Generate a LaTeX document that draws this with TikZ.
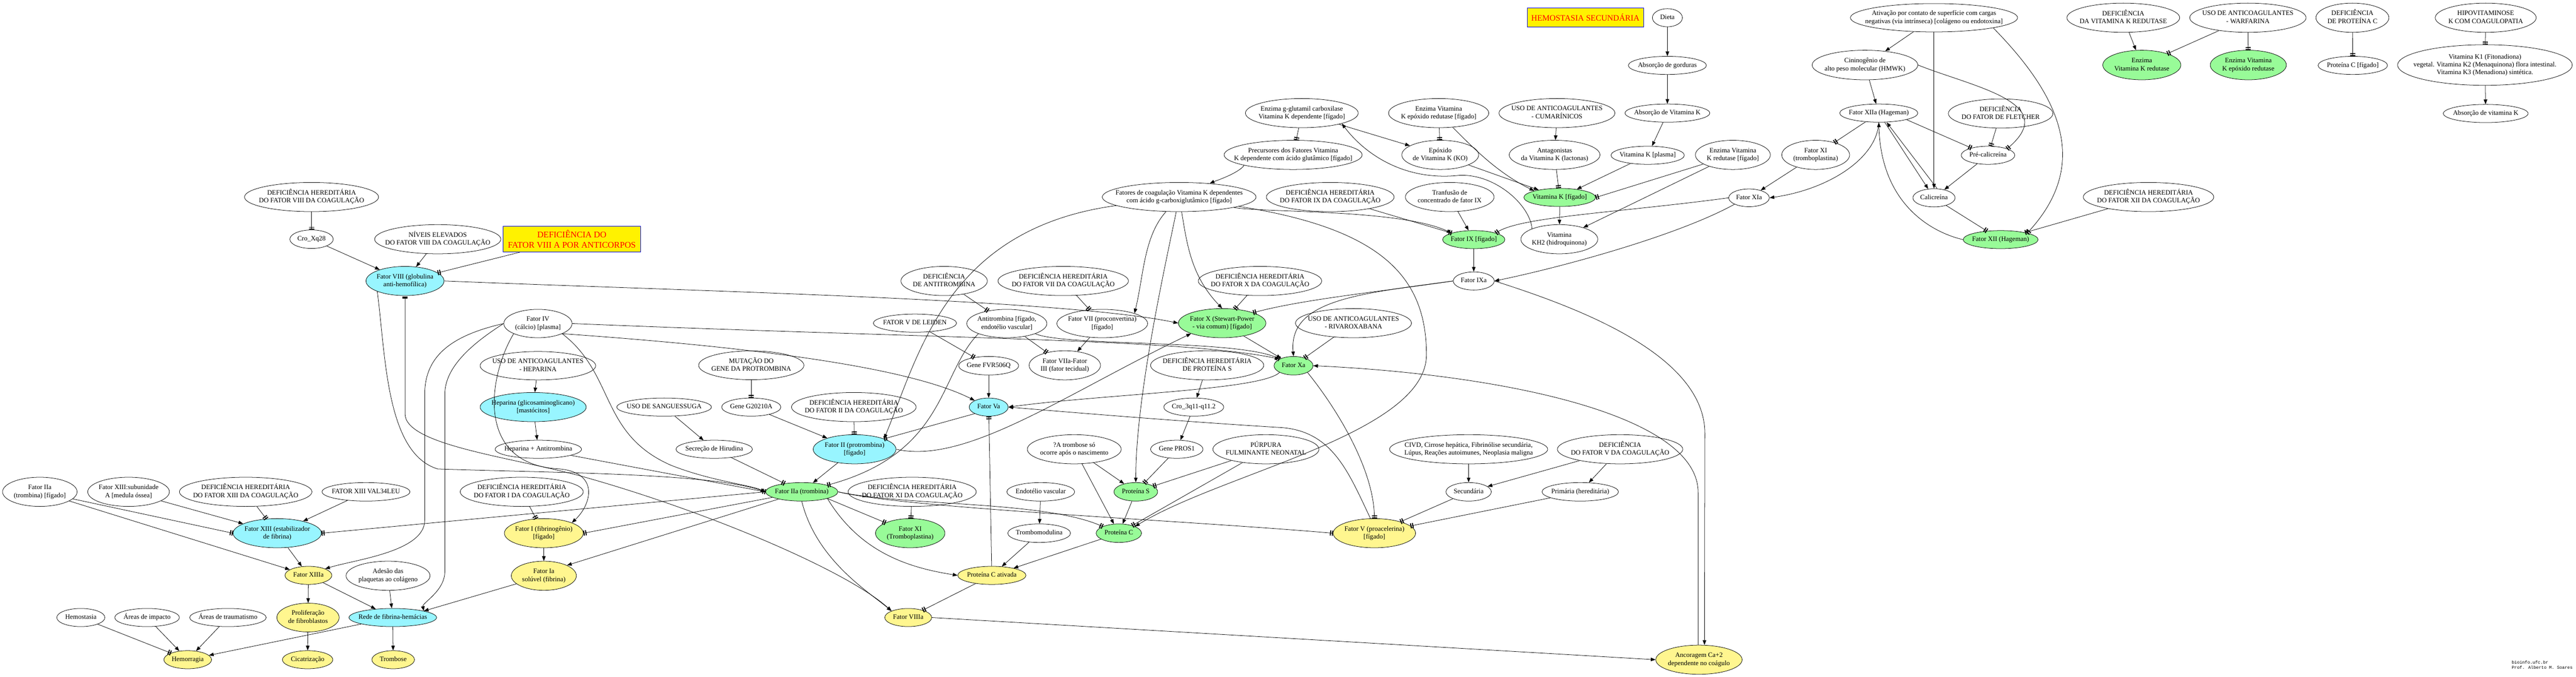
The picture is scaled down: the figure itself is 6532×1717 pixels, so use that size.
\documentclass[tikz,border=0pt]{standalone}
\usepackage{fontspec}
\setmainfont{Liberation Serif}
\newfontfamily\marcafont{Liberation Mono}
\usetikzlibrary{shapes.geometric,arrows.meta}
\definecolor{azul}{HTML}{98F5FF}
\definecolor{verde}{HTML}{98FB98}
\definecolor{amarelo}{HTML}{FFF68F}
\def\lb#1{\makebox[0pt]{\begin{tabular}{@{}c@{}}#1\end{tabular}}}
\tikzset{
	elip/.style 2 args={ellipse, draw, line width=1pt, minimum width=#1, minimum height=#2, inner sep=0pt, font=\fontsize{17}{20}\selectfont},
	caixa/.style={rectangle, draw=blue, fill=yellow, text=red, line width=1pt, inner xsep=9pt, inner ysep=7pt, font=\fontsize{21}{25}\selectfont, align=center},
	seta/.style={line width=1pt, -{Triangle[length=12pt,width=9pt]}},
	inib/.style={line width=1pt, -{Bar[width=13pt,line width=2.5pt,sep=2.5pt]Bar[width=13pt,line width=2.5pt]}},
}
\begin{document}
\begin{tikzpicture}[x=1pt,y=-1pt]
		%%%%% START %%%%%
		\useasboundingbox (0,0) rectangle (6532,1717);
		
		% parte de cima
		\node[caixa, minimum width=295, minimum height=48] (hemsec) at (4020,44) {HEMOSTASIA SECUNDÁRIA};
		\node[elip={76}{46}] (dieta) at (4228,45) {\lb{Dieta}};
		\node[elip={424}{72}] (ativ) at (4904,45) {\lb{Ativação por contato de superfície com cargas\\negativas (via intrínseca) [colágeno ou endotoxina]}};
		\node[elip={286}{74}] (defvkred) at (5384,45) {\lb{DEFICIÊNCIA\\DA VITAMINA K REDUTASE}};
		\node[elip={295}{74}] (warf) at (5700,45) {\lb{USO DE ANTICOAGULANTES\\- WARFARINA}};
		\node[elip={185}{74}] (defpc) at (5965,45) {\lb{DEFICIÊNCIA\\DE PROTEÍNA C}};
		\node[elip={256}{74}] (hipovit) at (6303,45) {\lb{HIPOVITAMINOSE\\K COM COAGULOPATIA}};
		
		\node[elip={198}{46}] (absgord) at (4228,166) {\lb{Absorção de gorduras}};
		\node[elip={268}{75}] (cinino) at (4729,165) {\lb{Cininogênio de\\alto peso molecular (HMWK)}};
		\node[elip={198}{75}, fill=verde] (enzvkred) at (5431,165) {\lb{Enzima\\Vitamina K redutase}};
		\node[elip={193}{75}, fill=verde] (enzvkepox) at (5701,165) {\lb{Enzima Vitamina\\K epóxido redutase}};
		\node[elip={176}{46}] (pcfig) at (5966,166) {\lb{Proteína C [fígado]}};
		\node[elip={443}{103}] (vitk) at (6301,165) {\lb{Vitamina K1 (Fitonadiona)\\vegetal. Vitamina K2 (Menaquinona) flora intestinal.\\Vitamina K3 (Menadiona) sintética.}};
		
		\node[elip={286}{74}] (enzgama) at (3301,287) {\lb{Enzima g-glutamil carboxilase\\Vitamina K dependente [fígado]}};
		\node[elip={254}{74}] (enzepf) at (3648,287) {\lb{Enzima Vitamina\\K epóxido redutase [fígado]}};
		\node[elip={294}{74}] (cumar) at (3948,287) {\lb{USO DE ANTICOAGULANTES\\- CUMARÍNICOS}};
		\node[elip={215}{46}] (absvk) at (4228,287) {\lb{Absorção de Vitamina K}};
		\node[elip={198}{46}] (f12a) at (4764,287) {\lb{Fator XIIa (Hageman)}};
		\node[elip={265}{74}] (fletcher) at (5073,288) {\lb{DEFICIÊNCIA\\DO FATOR DE FLETCHER}};
		\node[elip={215}{46}] (absvk2) at (6303,288) {\lb{Absorção de vitamina K}};
		
		\node[elip={350}{74}] (precur) at (3279,393) {\lb{Precursores dos Fatores Vitamina\\K dependente com ácido glutâmico [fígado]}};
		\node[elip={195}{74}] (epox) at (3652,393) {\lb{Epóxido\\de Vitamina K (KO)}};
		\node[elip={230}{74}] (antag) at (3942,393) {\lb{Antagonistas\\da Vitamina K (lactonas)}};
		\node[elip={186}{46}] (vkplasma) at (4178,394) {\lb{Vitamina K [plasma]}};
		\node[elip={190}{74}] (enzredf) at (4394,393) {\lb{Enzima Vitamina\\K redutase [fígado]}};
		\node[elip={172}{74}] (f11trom) at (4604,393) {\lb{Fator XI\\(tromboplastina)}};
		\node[elip={136}{46}] (precal) at (5041,394) {\lb{Pré-calicreína}};
		
		\node[elip={340}{74}] (defh8) at (790,500) {\lb{DEFICIÊNCIA HEREDITÁRIA\\DO FATOR VIII DA COAGULAÇÃO}};
		\node[elip={390}{74}] (fatvk) at (2990,500) {\lb{Fatores de coagulação Vitamina K dependentes\\com ácido g-carboxiglutâmico [fígado]}};
		\node[elip={324}{74}] (def9) at (3373,500) {\lb{DEFICIÊNCIA HEREDITÁRIA\\DO FATOR IX DA COAGULAÇÃO}};
		\node[elip={225}{74}] (transf) at (3676,500) {\lb{Tranfusão de\\concentrado de fator IX}};
		\node[elip={182}{46}, fill=verde] (vkfig) at (3955,501) {\lb{Vitamina K [fígado]}};
		\node[elip={103}{45}] (f11a) at (4435,502) {\lb{Fator XIa}};
		\node[elip={107}{46}] (calic) at (4904,502) {\lb{Calicreína}};
		\node[elip={331}{74}] (def12) at (5448,500) {\lb{DEFICIÊNCIA HEREDITÁRIA\\DO FATOR XII DA COAGULAÇÃO}};
		
		\node[elip={110}{47}] (cro8) at (790,607) {\lb{Cro\_Xq28}};
		\node[elip={320}{74}] (niveis) at (1110,607) {\lb{NÍVEIS ELEVADOS\\DO FATOR VIII DA COAGULAÇÃO}};
		\node[caixa, font=\fontsize{22}{26}\selectfont, inner xsep=12pt, inner ysep=10pt] (anticorp) at (1450,607) {DEFICIÊNCIA DO\\FATOR VIII A POR ANTICORPOS};
		\node[elip={158}{46}, fill=verde] (f9) at (3737,608) {\lb{Fator IX [fígado]}};
		\node[elip={195}{74}] (vkh2) at (3954,607) {\lb{Vitamina\\KH2 (hidroquinona)}};
		\node[elip={190}{46}, fill=verde] (f12) at (5073,608) {\lb{Fator XII (Hageman)}};
		
		% meio
		\node[elip={198}{74}, fill=azul] (f8) at (1027,713) {\lb{Fator VIII (globulina\\anti-hemofílica)}};
		\node[elip={219}{74}] (defat) at (2394,713) {\lb{DEFICIÊNCIA\\DE ANTITROMBINA}};
		\node[elip={331}{74}] (def7) at (2696,713) {\lb{DEFICIÊNCIA HEREDITÁRIA\\DO FATOR VII DA COAGULAÇÃO}};
		\node[elip={313}{74}] (def10) at (3195,713) {\lb{DEFICIÊNCIA HEREDITÁRIA\\DO FATOR X DA COAGULAÇÃO}};
		\node[elip={104}{46}] (f9a) at (3737,713) {\lb{Fator IXa}};
		
		\node[elip={173}{72}] (f4) at (1364,821) {\lb{Fator IV\\(cálcio) [plasma]}};
		\node[elip={211}{46}] (leiden) at (2320,820) {\lb{FATOR V DE LEIDEN}};
		\node[elip={203}{72}] (antitr) at (2553,821) {\lb{Antitrombina [fígado,\\endotélio vascular]}};
		\node[elip={230}{72}] (f7) at (2795,821) {\lb{Fator VII (proconvertina)\\{}[fígado]}};
		\node[elip={222}{74}, fill=verde] (f10) at (3099,820) {\lb{Fator X (Stewart-Power\\- via comum) [fígado]}};
		\node[elip={294}{74}] (rivar) at (3432,820) {\lb{USO DE ANTICOAGULANTES\\- RIVAROXABANA}};
		
		\node[elip={293}{72}] (hepuso) at (1364,928) {\lb{USO DE ANTICOAGULANTES\\- HEPARINA}};
		\node[elip={267}{73}] (mutpro) at (1905,927) {\lb{MUTAÇÃO DO\\GENE DA PROTROMBINA}};
		\node[elip={152}{47}] (fvr) at (2507,928) {\lb{Gene FVR506Q}};
		\node[elip={181}{74}] (f7a) at (2700,927) {\lb{Fator VIIa-Fator\\III (fator tecidual)}};
		\node[elip={287}{74}] (defps) at (3061,927) {\lb{DEFICIÊNCIA HEREDITÁRIA\\DE PROTEÍNA S}};
		\node[elip={99}{47}, fill=verde] (f10a) at (3280,928) {\lb{Fator Xa}};
		
		\node[elip={269}{74}, fill=azul] (hepar) at (1352,1033) {\lb{Heparina (glicosaminoglicano)\\{}[mastócitos]}};
		\node[elip={240}{46}] (sangue) at (1684,1033) {\lb{USO DE SANGUESSUGA}};
		\node[elip={150}{46}] (g20210) at (1905,1033) {\lb{Gene G20210A}};
		\node[elip={316}{74}] (def2) at (2165,1033) {\lb{DEFICIÊNCIA HEREDITÁRIA\\DO FATOR II DA COAGULAÇÃO}};
		\node[elip={99}{46}, fill=azul] (f5a) at (2507,1033) {\lb{Fator Va}};
		\node[elip={152}{46}] (cro3q) at (3027,1033) {\lb{Cro\_3q11-q11.2}};
		
		\node[elip={219}{46}] (hepat) at (1365,1140) {\lb{Heparina + Antitrombina}};
		\node[elip={194}{46}] (hirud) at (1811,1140) {\lb{Secreção de Hirudina}};
		\node[elip={210}{74}, fill=azul] (f2) at (2167,1140) {\lb{Fator II (protrombina)\\{}[fígado]}};
		\node[elip={238}{74}] (nasc) at (2724,1140) {\lb{?A trombose só\\ocorre após o nascimento}};
		\node[elip={133}{46}] (pros1) at (2984,1140) {\lb{Gene PROS1}};
		\node[elip={269}{74}] (purp) at (3210,1140) {\lb{PÚRPURA\\FULMINANTE NEONATAL}};
		\node[elip={401}{74}] (civd) at (3724,1140) {\lb{CIVD, Cirrose hepática, Fibrinólise secundária,\\Lúpus, Reações autoimunes, Neoplasia maligna}};
		\node[elip={318}{74}] (def5) at (4108,1140) {\lb{DEFICIÊNCIA\\DO FATOR V DA COAGULAÇÃO}};
		
		% parte de baixo
		\node[elip={189}{74}] (f2afig) at (101,1248) {\lb{Fator IIa\\(trombina) [fígado]}};
		\node[elip={207}{74}] (f13sub) at (326,1248) {\lb{Fator XIII:subunidade\\A [medula óssea]}};
		\node[elip={336}{74}] (def13) at (623,1248) {\lb{DEFICIÊNCIA HEREDITÁRIA\\DO FATOR XIII DA COAGULAÇÃO}};
		\node[elip={223}{47}] (val34) at (928,1248) {\lb{FATOR XIII VAL34LEU}};
		\node[elip={312}{74}] (def1) at (1323,1248) {\lb{DEFICIÊNCIA HEREDITÁRIA\\DO FATOR I DA COAGULAÇÃO}};
		\node[elip={183}{47}, fill=verde] (f2a) at (2033,1248) {\lb{Fator IIa (trombina)}};
		\node[elip={325}{74}] (def11) at (2313,1248) {\lb{DEFICIÊNCIA HEREDITÁRIA\\DO FATOR XI DA COAGULAÇÃO}};
		\node[elip={172}{47}] (endot) at (2639,1248) {\lb{Endotélio vascular}};
		\node[elip={111}{47}, fill=verde] (ps) at (2880,1248) {\lb{Proteína S}};
		\node[elip={115}{47}] (secund) at (3724,1248) {\lb{Secundária}};
		\node[elip={194}{47}] (prim) at (4007,1248) {\lb{Primária (hereditária)}};
		
		\node[elip={224}{74}, fill=azul] (f13) at (703,1353) {\lb{Fator XIII (estabilizador\\de fibrina)}};
		\node[elip={200}{74}, fill=amarelo] (f1) at (1379,1353) {\lb{Fator I (fibrinogênio)\\{}[fígado]}};
		\node[elip={176}{74}, fill=verde] (f11) at (2308,1353) {\lb{Fator XI\\(Tromboplastina)}};
		\node[elip={159}{47}] (tmod) at (2635,1353) {\lb{Trombomodulina}};
		\node[elip={115}{47}, fill=verde] (pc) at (2837,1353) {\lb{Proteína C}};
		\node[elip={209}{74}, fill=amarelo] (f5) at (3485,1353) {\lb{Fator V (proacelerina)\\{}[fígado]}};
		
		\node[elip={119}{46}, fill=amarelo] (f13a) at (782,1460) {\lb{Fator XIIIa}};
		\node[elip={213}{74}] (ades) at (984,1461) {\lb{Adesão das\\plaquetas ao colágeno}};
		\node[elip={165}{74}, fill=amarelo] (f1a) at (1379,1461) {\lb{Fator Ia\\solúvel (fibrina)}};
		\node[elip={173}{46}, fill=amarelo] (pca) at (2515,1460) {\lb{Proteína C ativada}};
		
		\node[elip={122}{46}] (hemost) at (205,1567) {\lb{Hemostasia}};
		\node[elip={164}{46}] (impac) at (373,1567) {\lb{Áreas de impacto}};
		\node[elip={194}{46}] (traum) at (578,1567) {\lb{Áreas de traumatismo}};
		\node[elip={158}{73}, fill=amarelo] (prolif) at (781,1567) {\lb{Proliferação\\de fibroblastos}};
		\node[elip={222}{46}, fill=azul] (rede) at (996,1567) {\lb{Rede de fibrina-hemácias}};
		\node[elip={119}{46}, fill=amarelo] (f8a) at (2303,1567) {\lb{Fator VIIIa}};
		
		\node[elip={121}{46}, fill=amarelo] (hemor) at (476,1674) {\lb{Hemorragia}};
		\node[elip={128}{46}, fill=amarelo] (cicat) at (780,1674) {\lb{Cicatrização}};
		\node[elip={108}{46}, fill=amarelo] (tromb) at (997,1674) {\lb{Trombose}};
		\node[elip={219}{74}, fill=amarelo] (ancor) at (4308,1674) {\lb{Ancoragem Ca+2\\dependente no coágulo}};
		
		\node[anchor=north west, inner sep=0pt, align=left, font=\marcafont\fontsize{11}{14}\selectfont] (marca) at (6369,1676) {bioinfo.ufc.br\\Prof. Alberto M. Soares};
		
		% ligacoes - vitamina K
		\draw[seta] (dieta) -- (absgord);
		\draw[seta] (absgord) -- (absvk);
		\draw[seta] (absvk) -- (vkplasma);
		\draw[seta] (vkplasma) -- (vkfig);
		\draw[inib] (hipovit) -- (vitk);
		\draw[seta] (vitk) -- (absvk2);
		\draw[seta] (defvkred) -- (enzvkred);
		\draw[inib] (warf) -- (enzvkred);
		\draw[inib] (warf) -- (enzvkepox);
		\draw[inib] (defpc) -- (pcfig);
		\draw[seta] (cumar) -- (antag);
		\draw[inib] (antag) -- (vkfig);
		\draw[seta] (vkfig) -- (vkh2);
		\draw[seta] (enzredf) -- (vkh2);
		\draw[inib] (enzredf) -- (vkfig.east);
		\draw[inib] (enzepf) -- (epox);
		\draw[seta] (enzepf) .. controls (3740,380) and (3800,440) .. (vkfig.north west);
		\draw[seta] (epox) -- (vkfig);
		\draw[seta] (enzgama) -- (epox);
		\draw[inib] (enzgama) -- (precur);
		\draw[seta] (vkh2.north west) .. controls (3880,520) and (3790,440) .. (3700,445) .. controls (3560,460) and (3460,390) .. (enzgama.south east);
		\draw[seta] (precur.south west) .. controls (3140,440) and (3080,460) .. (fatvk);
		
		% via intrinseca
		\draw[seta] (ativ) -- (cinino);
		\draw[seta] (ativ.south) -- (calic);
		\draw[inib] (ativ.south east) .. controls (5230,250) and (5300,420) .. (f12.north east);
		\draw[seta] (cinino) -- (f12a);
		\draw[inib] (cinino.east) .. controls (5000,220) and (5230,260) .. (precal.north east);
		\draw[seta] (f12.west) .. controls (4900,590) and (4770,520) .. (f12a.south);
		\draw[seta] (f12a) -- (calic);
		\draw[seta] ([xshift=8pt]calic.north) -- ([xshift=20pt]f12a.south);
		\draw[inib] (f12a.south east) -- (precal);
		\draw[seta] (precal) -- (calic);
		\draw[inib] (calic) -- (f12);
		\draw[inib] (fletcher) -- (precal);
		\draw[inib] (def12) -- (f12);
		\draw[inib] (f12a) -- (f11trom);
		\draw[seta] (f11trom) -- (f11a);
		\draw[seta] (f12a.south) .. controls (4760,400) and (4640,480) .. (f11a.east);
		\draw[inib] (f11a.west) .. controls (4100,540) and (3850,550) .. (f9.north east);
		\draw[seta] (f11a.south west) .. controls (4250,600) and (3950,680) .. (f9a.east);
		\draw[seta] (f9) -- (f9a);
		\draw[inib] (def9) -- (f9);
		\draw[seta] (transf) -- (f9);
		\draw[seta] (fatvk) .. controls (3200,540) and (3550,530) .. (f9.north west);
		
		% fator VIII
		\draw[inib] (defh8) -- (cro8);
		\draw[seta] (cro8) -- (f8);
		\draw[seta] (niveis) -- (f8);
		\draw[inib] (anticorp) -- (f8);
		\draw[seta] (f8.east) .. controls (1800,740) and (2700,760) .. (f10.west);
		\draw[{Bar[width=13pt,line width=2.5pt,sep=2.5pt]Bar[width=13pt,line width=2.5pt]}-{Triangle[length=12pt,width=9pt]}, line width=1pt] (f8.south) -- (1027,1050) .. controls (1027,1130) and (1300,1160) .. (1480,1210) .. controls (1800,1300) and (2150,1450) .. (f8a.north west);
		\draw[seta] (f8.south west) .. controls (978,900) and (978,1150) .. (1110,1190) .. controls (1400,1200) and (1800,1200) .. (f2a.west);
		
		% fatores vitamina K dependentes
		\draw[seta] (fatvk) .. controls (2900,600) and (2900,700) .. (f7.north east);
		\draw[seta] (fatvk) .. controls (3010,620) and (3020,700) .. (f10.north);
		\draw[seta] (fatvk) .. controls (2960,650) and (2880,1000) .. (ps);
		\draw[seta] (fatvk) .. controls (3500,580) and (3617,700) .. (3617,900) .. controls (3617,1100) and (3100,1200) .. (pc.north east);
		\draw[seta] (fatvk) .. controls (2400,580) and (2330,900) .. (f2.north east);
		
		% fator IV
		\draw[seta] (f4.west) .. controls (1150,850) and (1077,900) .. (1077,1000) -- (1077,1320) .. controls (1077,1400) and (900,1420) .. (f13a.north east);
		\draw[seta] (f4.west) .. controls (1200,870) and (1128,930) .. (1128,1000) -- (1128,1450) .. controls (1128,1500) and (1070,1530) .. (rede.north east);
		\draw[seta] (f4.south west) .. controls (1240,950) and (1200,1180) .. (1420,1190) .. controls (1520,1200) and (1500,1280) .. (f1.north east);
		\draw[seta] (f4.south east) .. controls (1560,950) and (1520,1100) .. (1700,1180) .. controls (1800,1220) and (1900,1230) .. (f2a.west);
		\draw[seta] (f4.east) .. controls (2400,860) and (3000,860) .. (f10a.north west);
		\draw[seta] (f4.south east) .. controls (1900,880) and (2300,930) .. (f5a.north west);
		
		% heparina, hirudina, protrombina
		\draw[seta] (hepuso) -- (hepar);
		\draw[seta] (hepar) -- (hepat);
		\draw[inib] (hepat) -- (f2a.west);
		\draw[seta] (sangue) -- (hirud);
		\draw[inib] (hirud) -- (f2a);
		\draw[inib] (mutpro) -- (g20210);
		\draw[seta] (g20210) -- (f2);
		\draw[inib] (def2) -- (f2);
		\draw[seta] (f2) -- (f2a);
		\draw[inib] (antitr.south west) .. controls (2380,950) and (2400,1150) .. (f2a.north east);
		\draw[seta] (f2.east) .. controls (2450,1180) and (2700,1000) .. (f10.south west);
		
		% fibrinogenio e fator XIII
		\draw[inib] (def1) -- (f1);
		\draw[seta] (f1) -- (f1a);
		\draw[inib] (f2a) -- (f1.east);
		\draw[seta] (f2a) -- (f1a.north east);
		\draw[seta] (f1a) -- (rede.north east);
		\draw[inib] (f2afig) -- (f13.west);
		\draw[seta] (f2afig) -- (f13a);
		\draw[seta] (f13sub) -- (f13);
		\draw[inib] (def13) -- (f13);
		\draw[seta] (val34) -- (f13);
		\draw[inib] (f2a.west) -- (f13.east);
		\draw[seta] (f13) -- (f13a);
		\draw[seta] (f13a) -- (prolif);
		\draw[seta] (f13a) -- (rede);
		\draw[seta] (ades) -- (rede);
		\draw[seta] (rede) -- (hemor);
		\draw[seta] (rede) -- (tromb);
		\draw[inib] (hemost) -- (hemor);
		\draw[seta] (impac) -- (hemor);
		\draw[seta] (traum) -- (hemor);
		\draw[seta] (prolif) -- (cicat);
		
		% trombina e proteina C
		\draw[inib] (def11) -- (f11);
		\draw[inib] (f2a.south east) -- (f11.north west);
		\draw[inib] (f2a.east) .. controls (2300,1290) and (3000,1320) .. (f5.west);
		\draw[inib] (f2a.east) .. controls (2300,1285) and (2650,1270) .. (pc.north west);
		\draw[seta] (f2a.south east) .. controls (2180,1400) and (2300,1440) .. (pca.west);
		\draw[seta] (f2a.south) .. controls (2070,1420) and (2200,1500) .. (f8a.north west);
		\draw[inib] (pca) -- (f8a);
		\draw[inib] (pca) -- (f5a);
		\draw[inib] (f5a.south west) -- (f2.north east);
		\draw[seta] (defps) -- (cro3q);
		\draw[seta] (cro3q) -- (pros1);
		\draw[inib] (pros1) -- (ps);
		\draw[seta] (nasc) -- (ps);
		\draw[seta] (nasc) -- (pc);
		\draw[inib] (purp) -- (ps);
		\draw[inib] (purp) -- (pc);
		\draw[seta] (ps) -- (pc);
		\draw[seta] (endot) -- (tmod);
		\draw[seta] (tmod) -- (pca);
		\draw[seta] (pc) -- (pca);
		
		% fatores VII, X e V
		\draw[inib] (defat) -- (antitr);
		\draw[inib] (def7) -- (f7);
		\draw[inib] (def10) -- (f10);
		\draw[inib] (leiden) -- (fvr);
		\draw[seta] (fvr) -- (f5a);
		\draw[seta] (f7) -- (f7a);
		\draw[inib] (antitr) -- (f7a);
		\draw[inib] (antitr.south east) .. controls (2700,880) and (3150,860) .. (f10a.north west);
		\draw[seta] (f10) -- (f10a);
		\draw[inib] (rivar) -- (f10a);
		\draw[inib] (f9a.west) .. controls (3500,740) and (3300,760) .. (f10.north east);
		\draw[seta] (f9a.west) .. controls (3450,745) and (3267,760) .. (f10a.north);
		\draw[seta] (f10a.south west) .. controls (3200,990) and (2800,1000) .. (f5a.east);
		\draw[seta] ([xshift=-10pt]f5.north) .. controls (3420,1200) and (3380,1095) .. (3250,1085) .. controls (3000,1070) and (2700,1045) .. (f5a.east);
		\draw[inib] (f10a.south east) .. controls (3400,1050) and (3485,1200) .. (f5.north);
		\draw[seta] (civd) -- (secund);
		\draw[seta] (def5) -- (secund);
		\draw[seta] (def5) -- (prim);
		\draw[inib] (secund) -- (f5);
		\draw[inib] (prim) -- (f5);
		
		% ancoragem
		\draw[seta] (f8a.east) -- (ancor.west);
		\draw[seta] (f9a.east) .. controls (4000,780) and (4323,900) .. (4323,1100) -- ([xshift=14pt]ancor.north);
		\draw[seta] ([xshift=-2pt]ancor.north) -- (4306,1250) .. controls (4306,1050) and (3800,950) .. (f10a.east);
		
		%%%%% END %%%%%
\end{tikzpicture}
\end{document}
